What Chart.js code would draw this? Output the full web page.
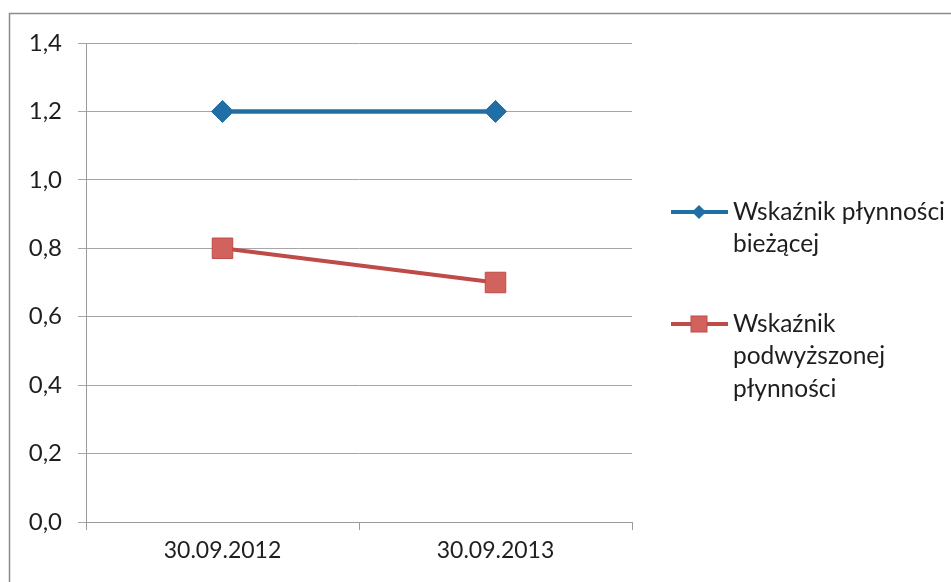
<!DOCTYPE html>
<html>
<head>
<meta charset="utf-8">
<script src="https://cdn.jsdelivr.net/npm/chart.js@4"></script>
<style>
  html, body { margin: 0; padding: 0; background: #ffffff; }
  #wrap { width: 951px; height: 582px; position: relative; }
</style>
</head>
<body>
<div id="wrap"><canvas id="chart" width="951" height="582"></canvas></div>
<script>
const categories = ["30.09.2012", "30.09.2013"];
const biezacaValues = [1.2, 1.2];
const podwyzszonaValues = [0.8, 0.7];
const seriesNames = [
  ["Wskaźnik płynności", "bieżącej"],
  ["Wskaźnik", "podwyższonej", "płynności"]
];

const FONT = "Lato, 'Open Sans', sans-serif";
const BLUE = "#1f6fa6";
const RED = "#be4b48";
const RED_FILL = "#d2625d";
const TEXT = "#1e1e1e";

// ramka + legenda po prawej
const sideLegend = {
  id: "sideLegend",
  afterDraw(chart) {
    const ctx = chart.ctx;
    ctx.save();
    ctx.strokeStyle = "#8c8c8c";
    ctx.lineWidth = 1.5;
    ctx.strokeRect(9.5, 13.5, 945, 580);

    const rows = [212, 324];
    chart.data.datasets.forEach((ds, i) => {
      const y = rows[i];
      ctx.strokeStyle = ds.borderColor;
      ctx.lineWidth = 4;
      ctx.beginPath();
      ctx.moveTo(671, y);
      ctx.lineTo(728, y);
      ctx.stroke();
      ctx.fillStyle = ds.pointBackgroundColor;
      ctx.strokeStyle = ds.pointBorderColor;
      ctx.lineWidth = 1;
      if (ds.pointStyle === "rectRot") {
        ctx.beginPath();
        ctx.moveTo(699, y - 7);
        ctx.lineTo(706, y);
        ctx.lineTo(699, y + 7);
        ctx.lineTo(692, y);
        ctx.closePath();
        ctx.fill();
      } else {
        ctx.fillRect(691, y - 8, 16, 16);
        ctx.strokeRect(691, y - 8, 16, 16);
      }
      ctx.fillStyle = TEXT;
      ctx.font = "24.5px " + FONT;
      ctx.textBaseline = "middle";
      ctx.textAlign = "left";
      seriesNames[i].forEach((line, j) => {
        ctx.fillText(line, 733, y + j * 32.5);
      });
    });
    ctx.restore();
  }
};

new Chart(document.getElementById("chart"), {
  type: "line",
  data: {
    labels: categories,
    datasets: [
      {
        label: seriesNames[0].join(" "),
        data: biezacaValues,
        borderColor: BLUE,
        borderWidth: 4.5,
        pointStyle: "rectRot",
        pointRadius: 11,
        pointBackgroundColor: BLUE,
        pointBorderColor: BLUE,
        pointBorderWidth: 1,
        tension: 0
      },
      {
        label: seriesNames[1].join(" "),
        data: podwyzszonaValues,
        borderColor: RED,
        borderWidth: 4,
        pointStyle: "rect",
        pointRadius: 14.5,
        pointBackgroundColor: RED_FILL,
        pointBorderColor: RED,
        pointBorderWidth: 1,
        tension: 0
      }
    ]
  },
  options: {
    responsive: false,
    animation: false,
    layout: { padding: { top: 43, right: 319, left: 0, bottom: 0 } },
    plugins: {
      legend: { display: false },
      tooltip: { enabled: false }
    },
    scales: {
      x: {
        offset: true,
        afterFit: (s) => { s.height = 60; },
        grid: {
          offset: true,
          drawOnChartArea: false,
          drawTicks: true,
          tickLength: 8,
          color: "#9a9a9a"
        },
        border: { color: "#9a9a9a" },
        ticks: {
          color: TEXT,
          padding: 7,
          font: { family: FONT, size: 23 }
        }
      },
      y: {
        min: 0,
        max: 1.4,
        afterFit: (s) => { s.width = 86; },
        grid: {
          color: "#a6a6a6",
          tickLength: 8,
          lineWidth: 1
        },
        border: { color: "#9a9a9a" },
        ticks: {
          stepSize: 0.2,
          color: TEXT,
          padding: 16,
          font: { family: FONT, size: 24 },
          callback: (v) => v.toFixed(1).replace(".", ",")
        }
      }
    }
  },
  plugins: [sideLegend]
});
</script>
</body>
</html>
